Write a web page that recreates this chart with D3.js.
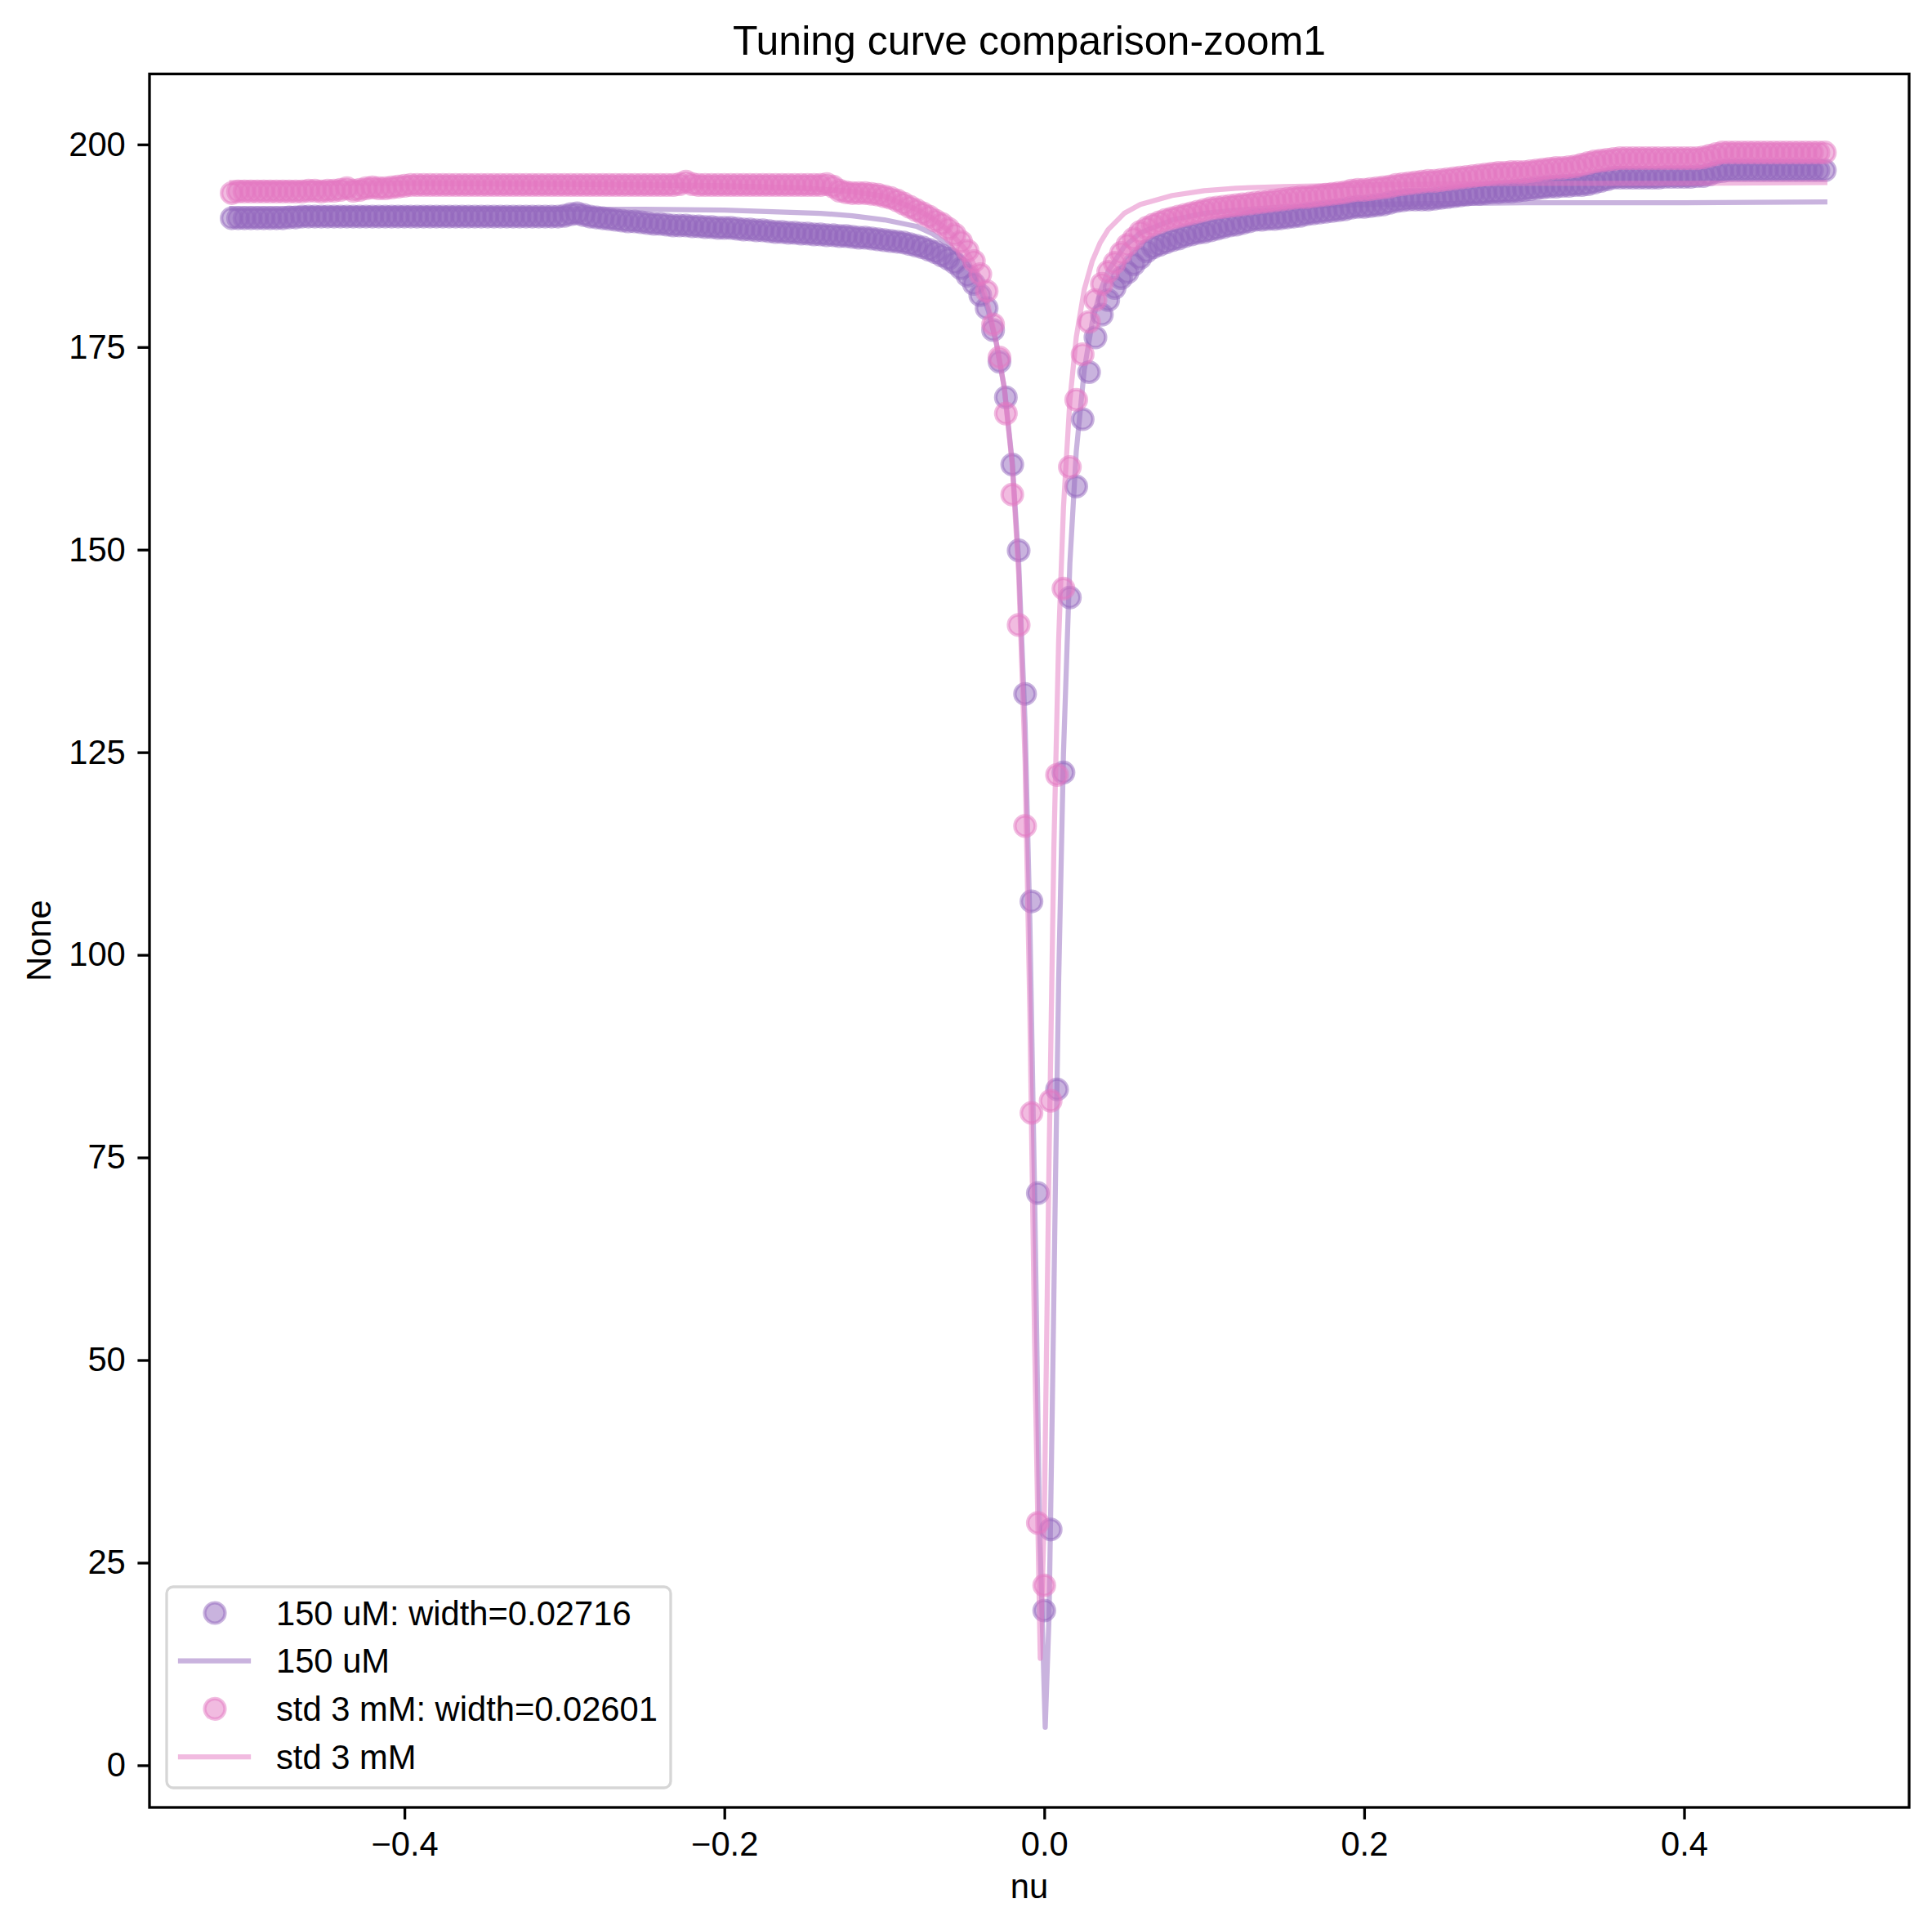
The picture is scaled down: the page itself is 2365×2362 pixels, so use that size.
<!DOCTYPE html>
<html>
<head>
<meta charset="utf-8">
<title>Tuning curve comparison-zoom1</title>
<script src="https://cdn.jsdelivr.net/npm/d3@7"></script>
<style>
    html, body { margin: 0; padding: 0; background: #ffffff; }
    svg text { font-family: "Liberation Sans", Arial, Helvetica, sans-serif; fill: #000000; }
</style>
</head>
<body>
<svg id="chart" width="2365" height="2362"></svg>
<script>
/*global d3*/

//detuning grid shared by both measured curves (one row = 10 points)
var nuGrid = [
    -0.508, -0.504, -0.500, -0.496, -0.492, -0.488, -0.484, -0.480, -0.476, -0.472,
    -0.468, -0.464, -0.460, -0.456, -0.452, -0.448, -0.444, -0.440, -0.436, -0.432,
    -0.428, -0.424, -0.420, -0.416, -0.412, -0.408, -0.404, -0.400, -0.396, -0.392,
    -0.388, -0.384, -0.380, -0.376, -0.372, -0.368, -0.364, -0.360, -0.356, -0.352,
    -0.348, -0.344, -0.340, -0.336, -0.332, -0.328, -0.324, -0.320, -0.316, -0.312,
    -0.308, -0.304, -0.300, -0.296, -0.292, -0.288, -0.284, -0.280, -0.276, -0.272,
    -0.268, -0.264, -0.260, -0.256, -0.252, -0.248, -0.244, -0.240, -0.236, -0.232,
    -0.228, -0.224, -0.220, -0.216, -0.212, -0.208, -0.204, -0.200, -0.196, -0.192,
    -0.188, -0.184, -0.180, -0.176, -0.172, -0.168, -0.164, -0.160, -0.156, -0.152,
    -0.148, -0.144, -0.140, -0.136, -0.132, -0.128, -0.124, -0.120, -0.116, -0.112,
    -0.108, -0.104, -0.100, -0.096, -0.092, -0.088, -0.084, -0.080, -0.076, -0.072,
    -0.068, -0.064, -0.060, -0.056, -0.052, -0.048, -0.044, -0.040, -0.036, -0.032,
    -0.028, -0.024, -0.020, -0.016, -0.012, -0.008, -0.004, 0.000, 0.004, 0.008,
    0.012, 0.016, 0.020, 0.024, 0.028, 0.032, 0.036, 0.040, 0.044, 0.048,
    0.052, 0.056, 0.060, 0.064, 0.068, 0.072, 0.076, 0.080, 0.084, 0.088,
    0.092, 0.096, 0.100, 0.104, 0.108, 0.112, 0.116, 0.120, 0.124, 0.128,
    0.132, 0.136, 0.140, 0.144, 0.148, 0.152, 0.156, 0.160, 0.164, 0.168,
    0.172, 0.176, 0.180, 0.184, 0.188, 0.192, 0.196, 0.200, 0.204, 0.208,
    0.212, 0.216, 0.220, 0.224, 0.228, 0.232, 0.236, 0.240, 0.244, 0.248,
    0.252, 0.256, 0.260, 0.264, 0.268, 0.272, 0.276, 0.280, 0.284, 0.288,
    0.292, 0.296, 0.300, 0.304, 0.308, 0.312, 0.316, 0.320, 0.324, 0.328,
    0.332, 0.336, 0.340, 0.344, 0.348, 0.352, 0.356, 0.360, 0.364, 0.368,
    0.372, 0.376, 0.380, 0.384, 0.388, 0.392, 0.396, 0.400, 0.404, 0.408,
    0.412, 0.416, 0.420, 0.424, 0.428, 0.432, 0.436, 0.440, 0.444, 0.448,
    0.452, 0.456, 0.460, 0.464, 0.468, 0.472, 0.476, 0.480, 0.484, 0.488
];

//150 uM measured points
var counts150 = [
    190.9, 190.9, 190.9, 190.9, 190.9, 190.9, 190.9, 190.9, 190.9, 191.0,
    191.0, 191.1, 191.1, 191.1, 191.1, 191.1, 191.1, 191.1, 191.1, 191.1,
    191.1, 191.1, 191.1, 191.1, 191.1, 191.1, 191.1, 191.1, 191.1, 191.1,
    191.1, 191.1, 191.1, 191.1, 191.1, 191.1, 191.1, 191.1, 191.1, 191.1,
    191.1, 191.1, 191.1, 191.1, 191.1, 191.1, 191.1, 191.1, 191.1, 191.1,
    191.1, 191.1, 191.2, 191.4, 191.5, 191.3, 191.1, 191.0, 190.9, 190.8,
    190.7, 190.6, 190.5, 190.5, 190.4, 190.3, 190.2, 190.2, 190.1, 190.0,
    190.0, 190.0, 189.9, 189.9, 189.8, 189.8, 189.7, 189.7, 189.7, 189.6,
    189.5, 189.5, 189.4, 189.4, 189.3, 189.2, 189.2, 189.1, 189.1, 189.0,
    189.0, 188.9, 188.9, 188.8, 188.8, 188.7, 188.7, 188.6, 188.5, 188.5,
    188.4, 188.3, 188.2, 188.1, 188.0, 187.9, 187.7, 187.5, 187.3, 187.0,
    186.7, 186.3, 185.9, 185.4, 184.7, 183.8, 182.8, 181.4, 179.8, 177.1,
    173.2, 168.8, 160.5, 149.9, 132.2, 106.6, 70.6, 19.1, 29.1, 83.4,
    122.5, 144.1, 157.8, 166.1, 171.9, 176.2, 179.0, 180.8, 182.3, 183.5,
    184.2, 185.2, 186.0, 186.8, 187.3, 187.6, 187.9, 188.2, 188.4, 188.7,
    188.9, 189.1, 189.2, 189.4, 189.6, 189.8, 190.0, 190.1, 190.3, 190.5,
    190.7, 190.7, 190.8, 190.8, 190.9, 191.0, 191.1, 191.2, 191.4, 191.5,
    191.6, 191.7, 191.8, 191.9, 192.0, 192.2, 192.3, 192.3, 192.4, 192.5,
    192.6, 192.8, 193.0, 193.1, 193.2, 193.2, 193.2, 193.2, 193.3, 193.4,
    193.5, 193.6, 193.7, 193.8, 193.9, 193.9, 194.0, 194.1, 194.1, 194.2,
    194.2, 194.3, 194.4, 194.5, 194.6, 194.7, 194.8, 194.8, 194.9, 194.9,
    195.0, 195.0, 195.1, 195.3, 195.5, 195.7, 195.9, 195.9, 195.9, 195.9,
    195.9, 195.9, 195.9, 195.9, 196.0, 196.0, 196.0, 196.0, 196.0, 196.1,
    196.1, 196.3, 196.6, 196.7, 196.8, 196.8, 196.8, 196.8, 196.8, 196.8,
    196.8, 196.8, 196.8, 196.8, 196.8, 196.8, 196.8, 196.8, 196.8, 196.8
];

//std 3 mM measured points
var countsStd = [
    194.0, 194.2, 194.2, 194.2, 194.2, 194.2, 194.2, 194.2, 194.2, 194.2,
    194.2, 194.2, 194.3, 194.3, 194.2, 194.3, 194.3, 194.4, 194.6, 194.3,
    194.4, 194.6, 194.7, 194.6, 194.6, 194.7, 194.8, 194.9, 195.0, 195.0,
    195.0, 195.0, 195.0, 195.0, 195.0, 195.0, 195.0, 195.0, 195.0, 195.0,
    195.0, 195.0, 195.0, 195.0, 195.0, 195.0, 195.0, 195.0, 195.0, 195.0,
    195.0, 195.0, 195.0, 195.0, 195.0, 195.0, 195.0, 195.0, 195.0, 195.0,
    195.0, 195.0, 195.0, 195.0, 195.0, 195.0, 195.0, 195.0, 195.0, 195.0,
    195.1, 195.4, 195.1, 195.0, 195.0, 195.0, 195.0, 195.0, 195.0, 195.0,
    195.0, 195.0, 195.0, 195.0, 195.0, 195.0, 195.0, 195.0, 195.0, 195.0,
    195.0, 195.0, 195.0, 195.1, 194.8, 194.3, 194.1, 194.0, 194.0, 194.0,
    193.9, 193.8, 193.6, 193.4, 193.1, 192.7, 192.3, 191.9, 191.5, 191.1,
    190.6, 190.2, 189.6, 188.9, 188.0, 186.9, 185.6, 184.0, 181.9, 177.8,
    173.7, 166.8, 156.8, 140.7, 115.9, 80.5, 29.9, 22.2, 82.0, 122.2,
    145.2, 160.2, 168.5, 174.1, 178.1, 180.8, 182.8, 184.3, 185.4, 186.6,
    187.6, 188.4, 189.2, 189.7, 190.1, 190.4, 190.7, 190.9, 191.1, 191.3,
    191.5, 191.7, 191.9, 192.1, 192.2, 192.3, 192.4, 192.5, 192.6, 192.7,
    192.8, 192.9, 193.0, 193.1, 193.2, 193.3, 193.4, 193.5, 193.5, 193.6,
    193.7, 193.8, 193.9, 194.0, 194.1, 194.3, 194.4, 194.4, 194.5, 194.6,
    194.7, 194.8, 195.0, 195.1, 195.2, 195.3, 195.4, 195.5, 195.5, 195.6,
    195.7, 195.8, 195.9, 196.0, 196.1, 196.2, 196.3, 196.4, 196.5, 196.5,
    196.6, 196.6, 196.6, 196.7, 196.8, 196.9, 197.0, 197.1, 197.1, 197.2,
    197.3, 197.5, 197.7, 197.9, 198.0, 198.1, 198.2, 198.3, 198.3, 198.3,
    198.3, 198.3, 198.3, 198.3, 198.3, 198.3, 198.3, 198.3, 198.3, 198.3,
    198.4, 198.6, 198.8, 199.0, 199.0, 199.0, 199.0, 199.0, 199.0, 199.0,
    199.0, 199.0, 199.0, 199.0, 199.0, 199.0, 199.0, 199.0, 199.0, 199.0
];

//fitted curves
var fit150Nu = [-0.508, -0.40, -0.30, -0.25, -0.20, -0.17, -0.14, -0.12, -0.10, -0.08, -0.07, -0.06,
    -0.05, -0.045, -0.04, -0.035, -0.03, -0.025, -0.02, -0.016, -0.012, -0.009, -0.006, -0.003,
    0.0006, 0.003, 0.005, 0.007, 0.009, 0.012, 0.016, 0.020, 0.025, 0.030, 0.035, 0.040,
    0.050, 0.060, 0.080, 0.10, 0.12, 0.15, 0.20, 0.25, 0.30, 0.40, 0.488];
var fit150 = [192.1, 192.1, 192.0, 192.0, 191.9, 191.7, 191.5, 191.2, 190.7, 189.9, 189.0, 187.7,
    185.7, 184.3, 182.3, 179.5, 175.5, 170.0, 160.8, 148.5, 128.5, 104.0, 70.0, 30.0,
    4.7, 18.4, 43.9, 72.0, 96.8, 124.8, 148.3, 162.1, 172.2, 178.1, 181.9, 184.4,
    187.4, 189.1, 190.7, 191.5, 191.9, 192.3, 192.6, 192.7, 192.8, 192.8, 192.9];
var fitStdNu = [-0.508, -0.40, -0.30, -0.20, -0.15, -0.12, -0.10, -0.08, -0.07, -0.06, -0.05,
    -0.045, -0.04, -0.035, -0.03, -0.025, -0.02, -0.016, -0.012, -0.009, -0.006, -0.0025,
    0.000, 0.003, 0.006, 0.009, 0.012, 0.016, 0.020, 0.025, 0.030, 0.035, 0.040,
    0.050, 0.060, 0.080, 0.10, 0.12, 0.15, 0.20, 0.25, 0.30, 0.40, 0.488];
var fitStd = [195.3, 195.2, 195.1, 194.9, 194.6, 194.2, 193.6, 192.0, 190.9, 189.4, 187.2,
    185.6, 183.4, 180.0, 175.6, 170.0, 160.4, 147.0, 124.0, 93.0, 52.0, 13.2,
    30.6, 74.7, 113.2, 138.9, 155.2, 168.4, 176.2, 182.1, 185.6, 187.9, 189.5,
    191.5, 192.6, 193.7, 194.3, 194.6, 194.8, 195.0, 195.1, 195.2, 195.2, 195.3];

var xTicks = [-0.4, -0.2, 0.0, 0.2, 0.4],
    yTicks = [0, 25, 50, 75, 100, 125, 150, 175, 200],
    legendLabels = ["150 uM: width=0.02716", "150 uM", "std 3 mM: width=0.02601", "std 3 mM"],
    purple = "#9467bd",
    pink = "#e377c2";

var svg = d3.select("#chart"),
    plotLeft = 183,
    plotRight = 2337,
    plotTop = 90.5,
    plotBottom = 2212,
    fontSize = 41.7, //10pt at 300 dpi
    tickLen = 14.6;

var x = d3.scaleLinear().domain([-0.5594, 0.5407]).range([plotLeft, plotRight]),
    y = d3.scaleLinear().domain([-5.2, 208.7]).range([plotBottom, plotTop]);

svg.append("rect")
    .attr("width", 2365)
    .attr("height", 2362)
    .attr("fill", "#ffffff");

svg.append("clipPath").attr("id", "plot-clip")
    .append("rect")
    .attr("x", plotLeft)
    .attr("y", plotTop)
    .attr("width", plotRight - plotLeft)
    .attr("height", plotBottom - plotTop);

var plot = svg.append("g").attr("clip-path", "url(#plot-clip)");

function drawPoints(values, color) {
    "use strict";
    plot.append("g").selectAll("circle")
        .data(values)
        .enter().append("circle")
            .attr("cx", function (d, i) { return x(nuGrid[i]); })
            .attr("cy", function (d) { return y(d); })
            .attr("r", 12.5)
            .attr("fill", color)
            .attr("fill-opacity", 0.5)
            .attr("stroke", color)
            .attr("stroke-opacity", 0.5)
            .attr("stroke-width", 4.17);
}
function drawFit(nus, values, color) {
    "use strict";
    var line = d3.line()
        .x(function (d, i) { return x(nus[i]); })
        .y(function (d) { return y(d); });
    plot.append("path")
        .attr("d", line(values))
        .attr("fill", "none")
        .attr("stroke", color)
        .attr("stroke-opacity", 0.5)
        .attr("stroke-width", 6.25)
        .attr("stroke-linejoin", "round")
        .attr("stroke-linecap", "square");
}

//same order as the original plotting calls
drawPoints(counts150, purple);
drawFit(fit150Nu, fit150, purple);
drawPoints(countsStd, pink);
drawFit(fitStdNu, fitStd, pink);

//axes
var xAxis = d3.axisBottom(x)
    .tickValues(xTicks)
    .tickFormat(d3.format(".1f"))
    .tickSize(tickLen)
    .tickPadding(tickLen);
var yAxis = d3.axisLeft(y)
    .tickValues(yTicks)
    .tickFormat(d3.format("d"))
    .tickSize(tickLen)
    .tickPadding(tickLen);

svg.append("g")
    .attr("transform", "translate(0," + plotBottom + ")")
    .call(xAxis);
svg.append("g")
    .attr("transform", "translate(" + plotLeft + ",0)")
    .call(yAxis);
svg.selectAll(".domain").remove();
svg.selectAll(".tick line").attr("stroke", "#000000").attr("stroke-width", 3.3);
svg.selectAll(".tick text")
    .attr("font-size", fontSize)
    .attr("font-family", "Liberation Sans, Arial, sans-serif")
    .attr("fill", "#000000");

svg.append("rect")
    .attr("x", plotLeft)
    .attr("y", plotTop)
    .attr("width", plotRight - plotLeft)
    .attr("height", plotBottom - plotTop)
    .attr("fill", "none")
    .attr("stroke", "#000000")
    .attr("stroke-width", 3.3);

//labels and title
svg.append("text")
    .attr("x", (plotLeft + plotRight) / 2)
    .attr("y", 66.7)
    .attr("text-anchor", "middle")
    .attr("font-size", 50)
    .text("Tuning curve comparison-zoom1");
svg.append("text")
    .attr("x", (plotLeft + plotRight) / 2)
    .attr("y", 2322.6)
    .attr("text-anchor", "middle")
    .attr("font-size", fontSize)
    .text("nu");
svg.append("text")
    .attr("transform", "translate(62," + ((plotTop + plotBottom) / 2) + ") rotate(-90)")
    .attr("text-anchor", "middle")
    .attr("font-size", fontSize)
    .text("None");

//legend
var legend = svg.append("g"),
    legendColors = [purple, purple, pink, pink],
    legendIsMarker = [true, false, true, false],
    rowY = d3.scaleLinear().domain([0, 3]).range([1974, 2150]),
    i;
legend.append("rect")
    .attr("x", 204)
    .attr("y", 1942)
    .attr("width", 617)
    .attr("height", 246)
    .attr("rx", 8)
    .attr("fill", "#ffffff")
    .attr("fill-opacity", 0.8)
    .attr("stroke", "#cccccc")
    .attr("stroke-opacity", 0.8)
    .attr("stroke-width", 3.3);
for (i = 0; i < legendLabels.length; i++) {
    if (legendIsMarker[i]) {
        legend.append("circle")
            .attr("cx", 263)
            .attr("cy", rowY(i))
            .attr("r", 12.5)
            .attr("fill", legendColors[i])
            .attr("fill-opacity", 0.5)
            .attr("stroke", legendColors[i])
            .attr("stroke-opacity", 0.5)
            .attr("stroke-width", 4.17);
    } else {
        legend.append("line")
            .attr("x1", 221)
            .attr("x2", 304)
            .attr("y1", rowY(i))
            .attr("y2", rowY(i))
            .attr("stroke", legendColors[i])
            .attr("stroke-opacity", 0.5)
            .attr("stroke-width", 6.25)
            .attr("stroke-linecap", "square");
    }
    legend.append("text")
        .attr("x", 338)
        .attr("y", rowY(i) + 14.5)
        .attr("font-size", fontSize)
        .text(legendLabels[i]);
}
</script>
</body>
</html>
